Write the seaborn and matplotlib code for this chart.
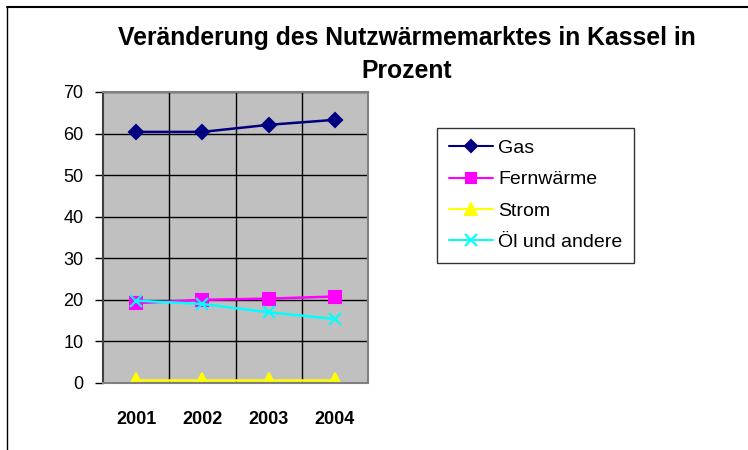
import matplotlib
matplotlib.use("Agg")
import matplotlib.pyplot as plt
import seaborn as sns
import pandas as pd
from matplotlib.lines import Line2D
from matplotlib.ticker import FixedLocator

years = ["2001", "2002", "2003", "2004"]
gas = [60.4, 60.4, 62.1, 63.3]
fernwaerme = [19.2, 20.0, 20.3, 20.8]
strom = [0.8, 0.8, 0.8, 0.8]
oel = [19.8, 19.0, 17.0, 15.4]

series_names = ["Gas", "Fernwärme", "Strom", "Öl und andere"]
series_values = [gas, fernwaerme, strom, oel]

rows = []
for name, vals in zip(series_names, series_values):
    for y, v in zip(years, vals):
        rows.append({"Jahr": y, "Anteil": v, "Energie": name})
df = pd.DataFrame(rows)

sns.set_style("white")
plt.rcParams["font.family"] = ["Liberation Sans", "DejaVu Sans"]
plt.rcParams["text.color"] = "black"
plt.rcParams["xtick.color"] = "black"
plt.rcParams["ytick.color"] = "black"
plt.rcParams["xtick.labelcolor"] = "black"
plt.rcParams["ytick.labelcolor"] = "black"

colors = {"Gas": "#000080", "Fernwärme": "#FF00FF", "Strom": "#FFFF00", "Öl und andere": "#00FFFF"}
markers = {"Gas": "D", "Fernwärme": "s", "Strom": "^", "Öl und andere": "x"}
msizes = {"Gas": 7, "Fernwärme": 8, "Strom": 10, "Öl und andere": 9}

fig = plt.figure(figsize=(7.48, 4.5), dpi=100)
ax = fig.add_axes([0.1377, 0.1489, 0.3543, 0.6467])
ax.set_facecolor("#C0C0C0")

for name in series_names:
    sub = df[df["Energie"] == name]
    sns.lineplot(
        data=sub,
        x="Jahr",
        y="Anteil",
        color=colors[name],
        marker=markers[name],
        markersize=msizes[name],
        markeredgecolor=colors[name],
        markeredgewidth=1.5,
        linewidth=1.8,
        ax=ax,
        label=name,
        legend=False,
    )

ax.set_xlim(-0.5, 3.5)
ax.set_ylim(0, 70)
ax.set_yticks(range(0, 71, 10))
ax.set_xticks(range(len(years)))
ax.set_xticklabels(years, fontweight="bold", fontsize=13, color="black")
ax.xaxis.set_minor_locator(FixedLocator([0.5, 1.5, 2.5]))
ax.grid(True, axis="y", which="major", color="black", linewidth=1)
ax.grid(True, axis="x", which="minor", color="black", linewidth=1)
ax.grid(False, axis="x", which="major")
ax.set_axisbelow(True)
ax.tick_params(axis="y", labelsize=13, length=6, width=1, direction="out", left=True, pad=8,
               colors="black")
ax.tick_params(axis="x", which="both", length=0, pad=20)
ax.set_xlabel("")
ax.set_ylabel("")
for side, sp in ax.spines.items():
    sp.set_color("#808080")
    sp.set_linewidth(1.5)
ax.spines["left"].set_color("#404040")

handles = [
    Line2D([0], [0], color=colors[n], marker=markers[n], markersize=msizes[n] - 1,
           markeredgecolor=colors[n], markeredgewidth=1.5, linewidth=1.5)
    for n in series_names
]
leg = fig.legend(
    handles, series_names,
    loc="upper left",
    bbox_to_anchor=(437 / 748, 1 - 128 / 450),
    borderaxespad=0,
    frameon=True, fancybox=False, edgecolor="black",
    fontsize=14, handlelength=2.3, labelspacing=0.7,
    borderpad=0.6, handletextpad=0.25,
)
leg.get_frame().set_linewidth(1)
for t in leg.get_texts():
    t.set_color("black")

fig.text(407 / 748, 1 - 38 / 450, "Veränderung des Nutzwärmemarktes in Kassel in",
         ha="center", va="center", fontsize=17.8, fontweight="bold", color="black")
fig.text(407 / 748, 1 - 71 / 450, "Prozent",
         ha="center", va="center", fontsize=17.8, fontweight="bold", color="black")

# chart border (top and left visible)
fig.add_artist(Line2D([7 / 748, 1], [1 - 7 / 450, 1 - 7 / 450], color="black", linewidth=1.5, transform=fig.transFigure))
fig.add_artist(Line2D([7 / 748, 7 / 748], [0, 1 - 7 / 450], color="black", linewidth=1, transform=fig.transFigure))

fig.savefig("out.png", dpi=100)
plt.close(fig)
